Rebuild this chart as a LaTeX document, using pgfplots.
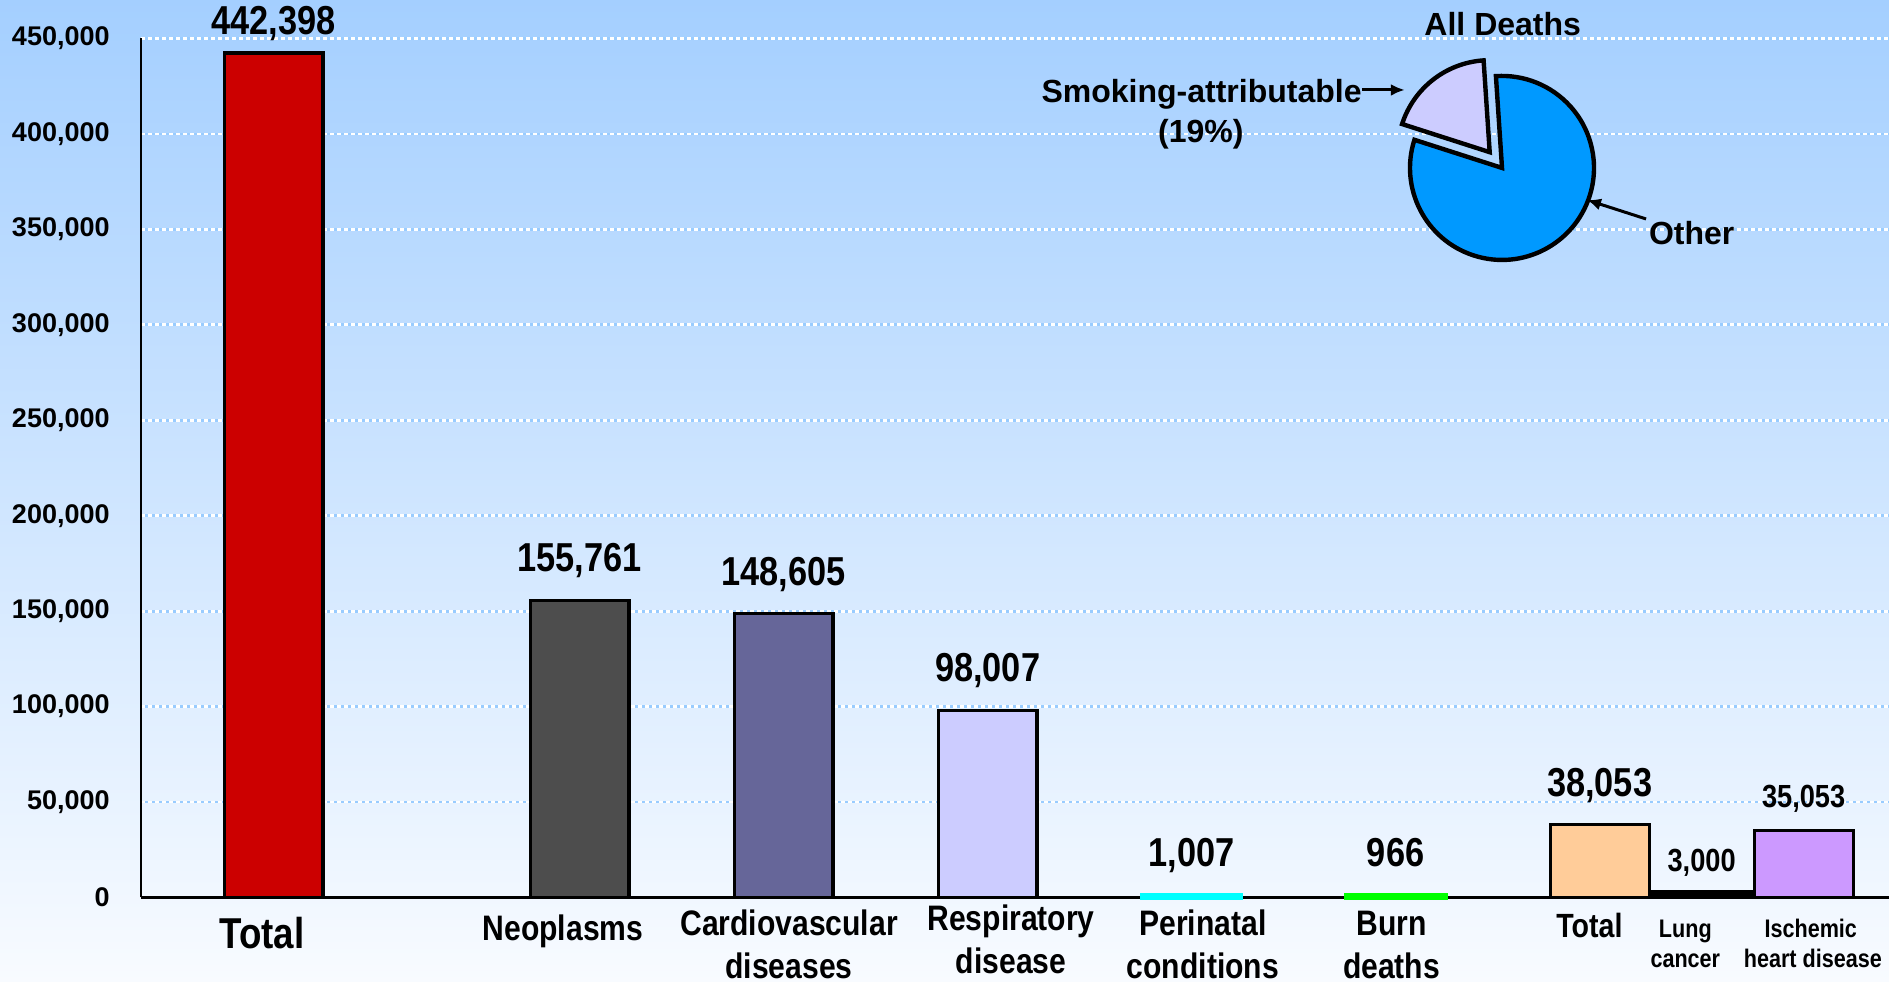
\documentclass[border=0pt]{standalone}
\usepackage{pgfplots}
\pgfplotsset{compat=1.18}
\usepackage{fontspec}
\setmainfont{Liberation Sans}
\newfontfamily\narrow{Liberation Sans}[FakeStretch=0.85]
\usetikzlibrary{backgrounds,arrows.meta}

\definecolor{bgtop}{RGB}{164,207,255}
\definecolor{bgbot}{RGB}{248,251,255}
\definecolor{gridblue}{RGB}{153,204,255}
\definecolor{cRed}{RGB}{204,0,0}
\definecolor{cNeo}{RGB}{77,77,77}
\definecolor{cCardio}{RGB}{102,102,153}
\definecolor{cResp}{RGB}{204,204,255}
\definecolor{cPeri}{RGB}{0,255,255}
\definecolor{cBurn}{RGB}{0,255,0}
\definecolor{cTot}{RGB}{255,204,153}
\definecolor{cIsch}{RGB}{204,153,255}
\definecolor{cOther}{RGB}{0,153,255}

\newcommand{\valbig}{\narrow\bfseries\fontsize{20.2}{24}\selectfont}
\newcommand{\valsmall}{\narrow\bfseries\fontsize{16}{19}\selectfont}
\newcommand{\catbig}{\narrow\bfseries\fontsize{21.6}{26}\selectfont}
\newcommand{\catfont}{\narrow\bfseries\fontsize{17.7}{21}\selectfont}
\newcommand{\catmid}{\narrow\bfseries\fontsize{16.8}{20}\selectfont}
\newcommand{\catsmall}{\narrow\bfseries\fontsize{12.7}{15}\selectfont}
\newcommand{\piefont}{\bfseries\fontsize{16}{19}\selectfont}

% pie of all deaths: share attributable to smoking (percent)
\def\smokeshare{19}
\def\pieX{13.343}
\def\pieY{382190}
\pgfmathsetmacro\sA{128-\smokeshare*1.8}
\pgfmathsetmacro\sB{128+\smokeshare*1.8}
\pgfmathsetmacro\sC{\sA+360}

\pgfplotsset{
  val/.style 2 args={nodes near coords,
    every node near coord/.append style={font=#1, inner sep=0pt, text depth=0pt, yshift=#2}},
  bar/.style={ybar, bar shift=0pt, draw=black, line width=1.6pt, fill=#1},
}

\begin{document}
\begin{tikzpicture}
\begin{axis}[
  name=ax,
  scale only axis, width=874pt, height=429.5pt,
  xmin=0, xmax=17.137, ymin=0, ymax=450000,
  axis lines*=left,
  axis line style={line width=1.3pt, black},
  xtick=\empty,
  ytick={0,50000,...,450000},
  scaled y ticks=false,
  major tick length=0pt,
  yticklabel style={font=\bfseries\fontsize{13.5}{16}\selectfont, inner sep=0pt, xshift=-15.5pt},
  ymajorgrids,
  major grid style={line width=1.4pt, draw=gridblue,
    postaction={draw=white, line width=1.4pt, dash pattern=on 2pt off 1.5pt}},
  /pgf/number format/fixed,
  /pgf/number format/precision=0,
  /pgf/number format/1000 sep={,},
  /pgf/number format/assume math mode=true,
  clip=false,
  bar width=0.97,
]
% smoking-attributable deaths by cause
\addplot[bar=cRed, val={\valbig}{8.2pt}] coordinates {(1.3,442398)};
\addplot[bar=cNeo, val={\valbig}{13.5pt}] coordinates {(4.3,155761)};
\addplot[bar=cCardio, val={\valbig}{13.5pt}] coordinates {(6.3,148605)};
\addplot[bar=cResp, val={\valbig}{13.5pt}] coordinates {(8.3,98007)};
\addplot[bar=cPeri, draw=cPeri, line width=2.4pt, val={\valbig}{13.5pt}] coordinates {(10.3,1007)};
\addplot[bar=cBurn, draw=cBurn, line width=2.4pt, val={\valbig}{13.5pt}] coordinates {(12.3,966)};
% secondhand smoke
\addplot[bar=cTot, val={\valbig}{13.5pt}] coordinates {(14.3,38053)};
\addplot[bar=black, val={\valsmall}{9.5pt}] coordinates {(15.3,3000)};
\addplot[bar=cIsch, val={\valsmall}{10.5pt}] coordinates {(16.3,35053)};

% category labels
\node[anchor=base, font=\catbig, inner sep=0pt, yshift=-25.3pt] at (axis cs:1.186,0) {Total};
\node[anchor=base, font=\catfont, inner sep=0pt, yshift=-21.3pt] at (axis cs:4.137,0) {Neoplasms};
\node[anchor=base, font=\catfont, inner sep=0pt, yshift=-18.8pt] at (axis cs:6.353,0) {Cardiovascular};
\node[anchor=base, font=\catfont, inner sep=0pt, yshift=-40.3pt] at (axis cs:6.353,0) {diseases};
\node[anchor=base, font=\catfont, inner sep=0pt, yshift=-16.3pt] at (axis cs:8.53,0) {Respiratory};
\node[anchor=base, font=\catfont, inner sep=0pt, yshift=-37.8pt] at (axis cs:8.53,0) {disease};
\node[anchor=base, font=\catfont, inner sep=0pt, yshift=-18.8pt] at (axis cs:10.41,0) {Perinatal};
\node[anchor=base, font=\catfont, inner sep=0pt, yshift=-40.3pt] at (axis cs:10.41,0) {conditions};
\node[anchor=base, font=\catfont, inner sep=0pt, yshift=-18.8pt] at (axis cs:12.26,0) {Burn};
\node[anchor=base, font=\catfont, inner sep=0pt, yshift=-40.3pt] at (axis cs:12.26,0) {deaths};
\node[anchor=base, font=\catmid, inner sep=0pt, yshift=-19.8pt] at (axis cs:14.20,0) {Total};
\node[anchor=base, font=\catsmall, inner sep=0pt, yshift=-19.8pt] at (axis cs:15.14,0) {Lung};
\node[anchor=base, font=\catsmall, inner sep=0pt, yshift=-34.8pt] at (axis cs:15.14,0) {cancer};
\node[anchor=base, font=\catsmall, inner sep=0pt, yshift=-19.8pt] at (axis cs:16.37,0) {Ischemic};
\node[anchor=base, font=\catsmall, inner sep=0pt, yshift=-34.8pt] at (axis cs:16.39,0) {heart disease};

% inset pie
\filldraw[fill=cOther, draw=black, line width=2.2pt, line join=miter]
  (axis cs:\pieX,\pieY) -- ++(\sB:46pt) arc[start angle=\sB, end angle=\sC, radius=46pt] -- cycle;
\filldraw[fill=cResp, draw=black, line width=2.2pt, line join=miter]
  ([shift={(128:10pt)}]axis cs:\pieX,\pieY) -- ++(\sA:46pt) arc[start angle=\sA, end angle=\sB, radius=46pt] -- cycle;
\node[anchor=base, font=\piefont, inner sep=0pt] at (axis cs:13.35,451310) {All Deaths};
\node[anchor=base east, font=\piefont, inner sep=0pt] at (axis cs:11.97,416240) {Smoking-attributable};
\node[anchor=base, font=\piefont, inner sep=0pt] at (axis cs:10.39,395280) {(19\%)};
\node[anchor=base west, font=\piefont, inner sep=0pt] at (axis cs:14.78,341840) {Other};
\draw[-{Latex[length=7pt,width=6pt]}, line width=1.5pt] (axis cs:11.97,423040) -- (axis cs:12.39,423040);
\draw[-{Latex[length=7pt,width=6pt]}, line width=1.5pt] (axis cs:14.755,355460) -- (axis cs:14.176,365420);
\end{axis}
\begin{scope}[on background layer]
  \shade[top color=bgtop, bottom color=bgbot]
    ([xshift=-70.5pt,yshift=-42.25pt]ax.south west) rectangle ([yshift=19.25pt]ax.north east);
\end{scope}
\pgfresetboundingbox
\path[use as bounding box]
  ([xshift=-70.5pt,yshift=-42.25pt]ax.south west) rectangle ([yshift=19.25pt]ax.north east);
\end{tikzpicture}
\end{document}
